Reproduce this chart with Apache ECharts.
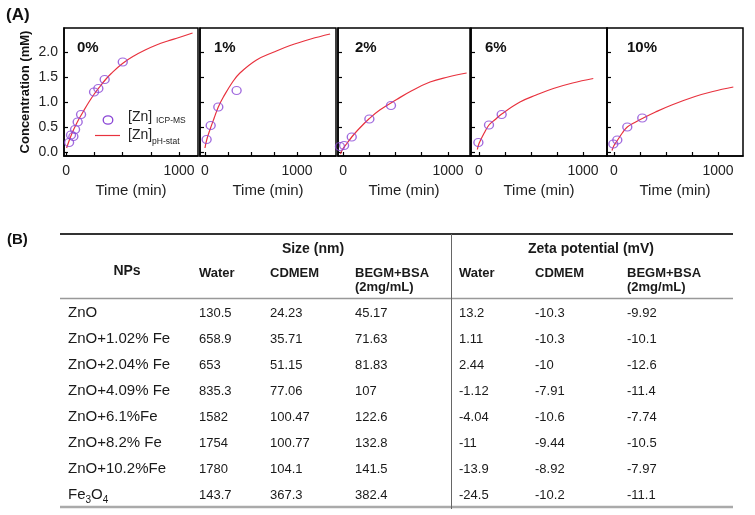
<!DOCTYPE html>
<html><head><meta charset="utf-8">
<script src="https://cdn.jsdelivr.net/npm/echarts@6/dist/echarts.min.js"></script>
<style>html,body{margin:0;padding:0;background:#fff}#c{width:755px;height:515px}</style>
</head><body><div id="c"></div>
<script>
// ---------- Panel (A) data ----------
const panelLabels = ['0%', '1%', '2%', '6%', '10%'];
const xTickValues = [0, 250, 500, 750, 1000, 1250];
const xLabelValues = [0, 1000];
const yTickValues = [0, 0.5, 1.0, 1.5, 2.0];

// pH-stat fitted curves [time (min), concentration (mM)]
const phStat0 = [[5,0.08],[50,0.36],[100,0.6],[150,0.8],[200,0.99],[250,1.16],[300,1.31],[350,1.45],[400,1.57],[500,1.77],[600,1.92],[700,2.04],[800,2.14],[900,2.22],[1000,2.29],[1120,2.38]];
const phStat1 = [[0,0.08],[20,0.25],[55,0.45],[100,0.68],[145,0.9],[200,1.1],[300,1.4],[380,1.58],[560,1.84],[750,2.0],[925,2.13],[1150,2.26],[1360,2.36]];
const phStat2 = [[-25,-0.04],[0,0.07],[40,0.18],[83,0.3],[150,0.46],[251,0.67],[350,0.84],[511,1.05],[650,1.22],[829,1.4],[1000,1.5],[1178,1.58]];
const phStat6 = [[-16,0.05],[0,0.17],[50,0.38],[96,0.54],[150,0.64],[218,0.76],[394,1.0],[550,1.14],[715,1.27],[900,1.38],[1099,1.47]];
const phStat10 = [[-19,0.03],[0,0.13],[32,0.23],[80,0.38],[128,0.5],[200,0.59],[272,0.67],[400,0.8],[555,0.94],[779,1.11],[950,1.21],[1147,1.3]];

// ICP-MS measurements [time (min), concentration (mM)]
const icp0 = [[27,0.19],[44,0.34],[65,0.31],[80,0.45],[103,0.6],[133,0.75],[248,1.2],[286,1.27],[342,1.45],[502,1.8]];
const icp1 = [[18,0.25],[62,0.53],[145,0.9],[344,1.23]];
const icp2 = [[-29,0.11],[10,0.13],[83,0.3],[251,0.66],[457,0.93]];
const icp6 = [[-6,0.19],[96,0.54],[218,0.75]];
const icp10 = [[-6,0.16],[32,0.24],[128,0.5],[272,0.68]];

// ---------- Table (B) data ----------
const npNames = ['ZnO', 'ZnO+1.02% Fe', 'ZnO+2.04% Fe', 'ZnO+4.09% Fe', 'ZnO+6.1%Fe', 'ZnO+8.2% Fe', 'ZnO+10.2%Fe', 'Fe3O4'];
const sizeWater = [130.5, 658.9, 653, 835.3, 1582, 1754, 1780, 143.7];
const sizeCDMEM = [24.23, 35.71, 51.15, 77.06, 100.47, 100.77, 104.1, 367.3];
const sizeBEGM = [45.17, 71.63, 81.83, 107, 122.6, 132.8, 141.5, 382.4];
const zetaWater = [13.2, 1.11, 2.44, -1.12, -4.04, -11, -13.9, -24.5];
const zetaCDMEM = [-10.3, -10.3, -10, -7.91, -10.6, -9.44, -8.92, -10.2];
const zetaBEGM = [-9.92, -10.1, -12.6, -11.4, -7.74, -10.5, -7.97, -11.1];
const mediaHeaders = ['Water', 'CDMEM', 'BEGM+BSA', '(2mg/mL)'];

// ---------- layout / style ----------
const FONT = '"Liberation Sans", Arial, Helvetica, sans-serif';
const RED = '#e8323e';
const PURPLE = '#8a46d6';
const phStat = [phStat0, phStat1, phStat2, phStat6, phStat10];
const icp = [icp0, icp1, icp2, icp6, icp10];
const gridLefts = [64, 200, 338, 471, 607];
const gridWidths = [134, 136, 132, 136, 136];
const xRanges = [[-18,1168],[-54,1424],[-48,1210],[-77,1231],[-67,1240]];
const labelOffsets = [13, 14, 17, 14, 20];

const ctx = document.createElement('canvas').getContext('2d');
function tw(text, size, bold) { ctx.font = (bold ? 'bold ' : '') + size + 'px ' + FONT; return ctx.measureText(text).width; }

const grids = [], xAxes = [], yAxes = [], series = [];
for (let i = 0; i < 5; i++) {
  grids.push({left: gridLefts[i], width: gridWidths[i], top: 28, height: 128, show: true, borderColor: '#000', borderWidth: 1.5, backgroundColor: 'transparent'});
  xAxes.push({
    type: 'value', gridIndex: i, min: xRanges[i][0], max: xRanges[i][1],
    axisLine: {show: true, onZero: false, lineStyle: {color: '#000', width: 1.5}},
    axisTick: {show: true, inside: true, length: 4, lineStyle: {color: '#000', width: 1.2}, customValues: xTickValues.filter(v => v < xRanges[i][1])},
    axisLabel: {show: true, customValues: xLabelValues, formatter: v => String(v), fontSize: 14, color: '#222', fontFamily: FONT, margin: 8},
    splitLine: {show: false},
    name: 'Time (min)', nameLocation: 'middle', nameGap: 27,
    nameTextStyle: {fontSize: 15, color: '#222', fontFamily: FONT}
  });
  yAxes.push({
    type: 'value', gridIndex: i, min: -0.08, max: 2.48,
    axisLine: {show: true, onZero: false, lineStyle: {color: '#000', width: 1.5}},
    axisTick: {show: true, inside: true, length: 4, lineStyle: {color: '#000', width: 1.2}, customValues: yTickValues},
    axisLabel: {show: i === 0, customValues: yTickValues, formatter: v => v.toFixed(1), fontSize: 14, color: '#222', fontFamily: FONT, margin: 6},
    splitLine: {show: false},
    name: i === 0 ? 'Concentration (mM)' : '', nameLocation: 'middle', nameGap: 32,
    nameTextStyle: {fontSize: 13, fontWeight: 'bold', color: '#111', fontFamily: FONT}
  });
  series.push({
    type: 'line', name: '[Zn]pH-stat', xAxisIndex: i, yAxisIndex: i, data: phStat[i],
    smooth: 0.4, symbol: 'none', lineStyle: {color: RED, width: 1.2}, z: 2, silent: true
  });
  series.push({
    type: 'scatter', name: '[Zn]ICP-MS', xAxisIndex: i, yAxisIndex: i, data: icp[i],
    symbol: 'circle', symbolSize: [9, 8],
    itemStyle: {color: 'rgba(0,0,0,0)', borderColor: PURPLE, borderWidth: 1.3}, z: 3, silent: true
  });
}

const graphics = [];
function T(x, y, text, size, opt) {
  opt = opt || {};
  graphics.push({type: 'text', silent: true, style: {
    x: x, y: y, text: text, fill: opt.color || '#1a1a1a',
    font: (opt.bold ? 'bold ' : '') + size + 'px ' + FONT,
    textAlign: opt.align || 'left', textVerticalAlign: 'middle'
  }});
}
function L(x1, y1, x2, y2, color, width) {
  graphics.push({type: 'line', silent: true, shape: {x1: x1, y1: y1, x2: x2, y2: y2}, style: {stroke: color, lineWidth: width}});
}

// (A) label and panel labels
T(6, 15, '(A)', 17, {bold: true, color: '#111'});
for (let i = 0; i < 5; i++) T(gridLefts[i] + labelOffsets[i], 48, panelLabels[i], 15, {bold: true, color: '#111'});

// legend in panel 1
graphics.push({type: 'ellipse', silent: true, shape: {cx: 108, cy: 120, rx: 4.8, ry: 4.2}, style: {fill: 'none', stroke: PURPLE, lineWidth: 1.3}});
L(95, 135.5, 120, 135.5, RED, 1.2);
T(128, 117, '[Zn]', 14, {color: '#222'});
T(128 + tw('[Zn] ', 14), 121, 'ICP-MS', 8.5, {color: '#222'});
T(128, 135, '[Zn]', 14, {color: '#222'});
T(128 + tw('[Zn]', 14), 142, 'pH-stat', 8.5, {color: '#222'});

// (B) table
T(7, 240, '(B)', 15, {bold: true, color: '#111'});
L(60, 234, 733, 234, '#333', 2);
L(60, 298.5, 733, 298.5, '#999', 1.5);
L(60, 507, 733, 507, '#aaa', 2.5);
L(451.5, 234, 451.5, 509, '#666', 1);
T(313, 249, 'Size (nm)', 14, {bold: true, align: 'center'});
T(591, 249, 'Zeta potential (mV)', 14, {bold: true, align: 'center'});
T(127, 271, 'NPs', 14, {bold: true, align: 'center'});
const sizeCols = [199, 270, 355], zetaCols = [459, 535, 627];
[sizeCols, zetaCols].forEach(cols => {
  T(cols[0], 273, mediaHeaders[0], 13, {bold: true});
  T(cols[1], 273, mediaHeaders[1], 13, {bold: true});
  T(cols[2], 273, mediaHeaders[2], 13, {bold: true});
  T(cols[2], 287, mediaHeaders[3], 13, {bold: true});
});
const colData = [sizeWater, sizeCDMEM, sizeBEGM, zetaWater, zetaCDMEM, zetaBEGM];
const colX = sizeCols.concat(zetaCols);
for (let r = 0; r < npNames.length; r++) {
  const y = 313 + r * 26;
  const name = npNames[r];
  if (name === 'Fe3O4') {
    let x = 68;
    T(x, y, 'Fe', 15); x += tw('Fe', 15);
    T(x, y + 5, '3', 10); x += tw('3', 10);
    T(x, y, 'O', 15); x += tw('O', 15);
    T(x, y + 5, '4', 10);
  } else {
    T(68, y, name, 15);
  }
  for (let c = 0; c < 6; c++) T(colX[c], y, String(colData[c][r]), 13);
}

const chart = echarts.init(document.getElementById('c'), null, {renderer: 'canvas'});
chart.setOption({
  backgroundColor: '#fff',
  animation: false,
  grid: grids, xAxis: xAxes, yAxis: yAxes, series: series,
  graphic: {elements: graphics}
});
</script></body></html>
